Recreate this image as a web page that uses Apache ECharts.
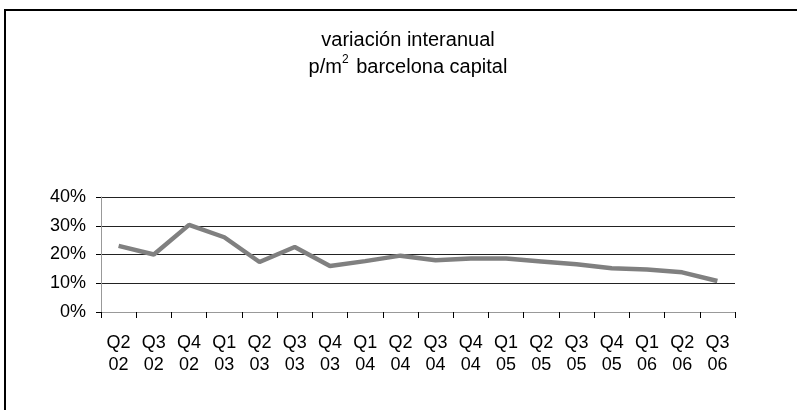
<!DOCTYPE html>
<html lang="es">
<head>
    <meta charset="UTF-8">
    <title>variación interanual</title>
    <script src="https://cdn.jsdelivr.net/npm/echarts@6/dist/echarts.min.js"></script>
    <style>
        html, body { margin: 0; padding: 0; background: #fff; }
        #main { width: 797px; height: 410px; }
    </style>
</head>
<body>
<div id="main"></div>
<script type="text/javascript">
    // datos: variación interanual p/m2 barcelona capital
    var trimestres = ['Q2\n02', 'Q3\n02', 'Q4\n02', 'Q1\n03', 'Q2\n03', 'Q3\n03', 'Q4\n03', 'Q1\n04', 'Q2\n04',
        'Q3\n04', 'Q4\n04', 'Q1\n05', 'Q2\n05', 'Q3\n05', 'Q4\n05', 'Q1\n06', 'Q2\n06', 'Q3\n06'];
    var variacion = [23.0, 20.0, 30.3, 26.0, 17.4, 22.6, 16.0, 17.7, 19.6, 18.0, 18.6, 18.6, 17.6, 16.6, 15.2, 14.8, 13.8, 10.8];
    var ticksY = [0, 10, 20, 30, 40];

    var fuente = '"Liberation Sans", Arial, sans-serif';
    var myChart = echarts.init(document.getElementById('main'));

    var option = {
        backgroundColor: '#fff',
        animation: false,
        title: {
            text: 'variación interanual\n{t|p/m}{sup|2}{t| barcelona capital}',
            left: 403,
            textAlign: 'center',
            top: 22,
            textStyle: {
                fontFamily: fuente,
                fontSize: 20,
                fontWeight: 'normal',
                color: '#000',
                lineHeight: 27,
                rich: {
                    t: {fontFamily: fuente, fontSize: 20, color: '#000', lineHeight: 27},
                    sup: {fontFamily: fuente, fontSize: 12, color: '#000', verticalAlign: 'top', lineHeight: 27, padding: [0, 2, 12, 0]}
                }
            }
        },
        graphic: [{
            type: 'rect',
            shape: {x: 5, y: 10, width: 900, height: 500},
            style: {fill: 'none', stroke: '#000', lineWidth: 2},
            silent: true
        }],
        grid: {
            left: 101,
            right: 62,
            top: 197,
            height: 115,
            containLabel: false
        },
        xAxis: {
            type: 'category',
            data: trimestres,
            boundaryGap: true,
            axisLine: {lineStyle: {color: '#999', width: 1}},
            axisTick: {show: true, length: 6, lineStyle: {color: '#000'}},
            axisLabel: {
                fontFamily: fuente,
                fontSize: 18,
                color: '#000',
                lineHeight: 22,
                margin: 20,
                interval: 0
            },
            splitLine: {show: false}
        },
        yAxis: {
            type: 'value',
            min: ticksY[0],
            max: ticksY[ticksY.length - 1],
            interval: 10,
            axisLine: {show: true, lineStyle: {color: '#999', width: 1}},
            axisTick: {show: true, length: 5, inside: false, lineStyle: {color: '#000'}},
            axisLabel: {
                fontFamily: fuente,
                fontSize: 18,
                color: '#000',
                margin: 15,
                formatter: '{value}%'
            },
            splitLine: {show: true, lineStyle: {color: '#222', width: 1}}
        },
        series: [{
            name: 'variación interanual',
            type: 'line',
            data: variacion,
            symbol: 'none',
            smooth: false,
            lineStyle: {color: '#808080', width: 4.5}
        }]
    };

    myChart.setOption(option);
</script>
</body>
</html>
